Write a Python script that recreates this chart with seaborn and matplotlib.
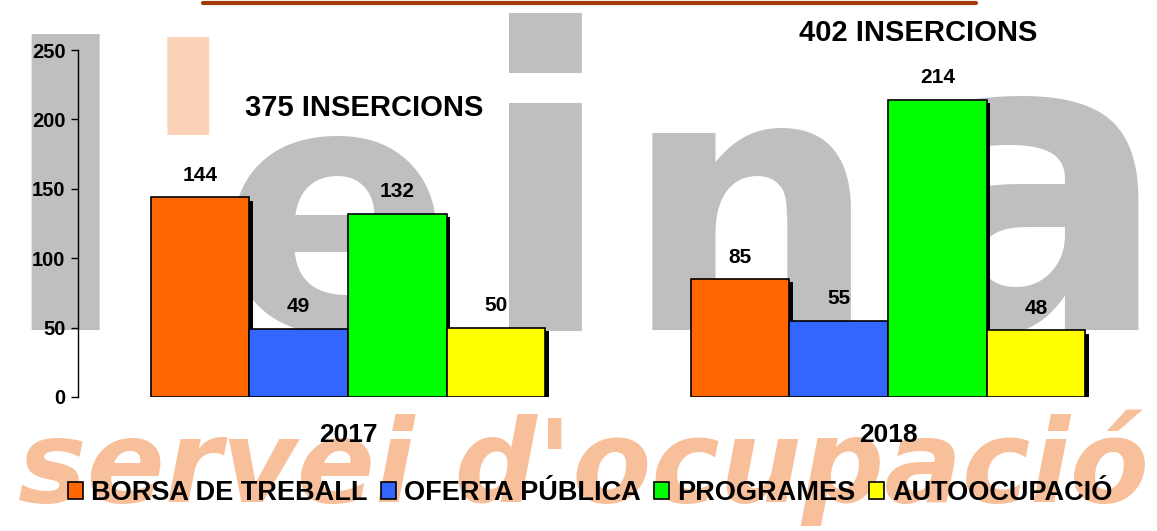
import matplotlib
matplotlib.use("Agg")
import matplotlib.pyplot as plt
import matplotlib.patches as mpatches
import matplotlib.patheffects as pe
from matplotlib.lines import Line2D
import pandas as pd
import seaborn as sns

# ---------------------------------------------------------------------------
# data
# ---------------------------------------------------------------------------
YEARS = ["2017", "2018"]
CATEGORIES = ["BORSA DE TREBALL", "OFERTA PÚBLICA", "PROGRAMES", "AUTOOCUPACIÓ"]
BORSA = [144, 85]
OFERTA = [49, 55]
PROGRAMES = [132, 214]
AUTOOCUPACIO = [50, 48]
TOTALS = ["375 INSERCIONS", "402 INSERCIONS"]

COLORS = ["#FF6600", "#3366FF", "#00FF00", "#FFFF00"]

df = pd.DataFrame({
    "year": YEARS * 4,
    "cat": [c for c in CATEGORIES for _ in YEARS],
    "value": BORSA + OFERTA + PROGRAMES + AUTOOCUPACIO,
})

sns.set_theme(style="white")
plt.rcParams["font.family"] = ["Liberation Sans", "DejaVu Sans"]
plt.rcParams["text.color"] = "black"
plt.rcParams["xtick.color"] = "black"
plt.rcParams["ytick.color"] = "black"

W, H = 1157, 531
fig = plt.figure(figsize=(W / 100, H / 100), dpi=100)
fig.patch.set_facecolor("white")


def px(x, y):
    return x / W, (H - y) / H


# ---------------------------------------------------------------------------
# background watermark (l'eina / servei d'ocupació)
# ---------------------------------------------------------------------------
GREY = "#BFBFBF"
ORANGE_WM = "#F8C09A"
wm = dict(family="DejaVu Sans", weight="bold", ha="center", va="baseline", zorder=0)
fig.text(*px(65, 330), "l", fontsize=280, color=GREY, **wm)
fig.text(*px(188, 300), "'", fontsize=260, color="#FAD3B8", **wm)
fig.text(*px(335, 330), "e", fontsize=250, color=GREY, **wm)
fig.text(*px(545, 330), "i", fontsize=300, color=GREY, **wm)
fig.text(*px(750, 330), "n", fontsize=260, color=GREY, **wm)
fig.text(*px(1030, 330), "a", fontsize=300, color=GREY, **wm)
fig.text(*px(583, 502), "servei d'ocupació", fontsize=83, color=ORANGE_WM,
         style="italic", **wm)

# cut-off title underline
fig.add_artist(Line2D([203 / W, 976 / W], [1 - 3 / H] * 2, color="#A33A0B", lw=3))

# ---------------------------------------------------------------------------
# bars
# ---------------------------------------------------------------------------
ax = fig.add_axes([78 / W, 1 - 397 / H, 1080 / W, 347 / H])
ax.patch.set_alpha(0)
ax.set_zorder(2)

sns.barplot(data=df, x="year", y="value", hue="cat", hue_order=CATEGORIES,
            palette=COLORS, width=0.73, edgecolor="black", linewidth=1.2,
            saturation=1, legend=False, ax=ax)

for c in ax.containers:
    ax.bar_label(c, fmt="%.0f", padding=9, fontsize=15, fontweight="bold")

for p in ax.patches:
    p.set_path_effects([pe.SimplePatchShadow(offset=(2.5, -2.5),
                                             shadow_rgbFace="black", alpha=1.0),
                        pe.Normal()])

ax.text(0.03, 208, TOTALS[0], ha="center", va="center", fontsize=21,
        fontweight="bold", clip_on=False)
ax.text(1.055, 262, TOTALS[1], ha="center", va="center", fontsize=21,
        fontweight="bold", clip_on=False)

ax.set_xlim(-0.5, 1.5)
ax.set_ylim(0, 250)
ax.set_yticks(range(0, 251, 50))
ax.set_xlabel("")
ax.set_ylabel("")
for s in ["top", "right", "bottom"]:
    ax.spines[s].set_visible(False)
ax.spines["left"].set_color("black")
ax.spines["left"].set_linewidth(1)
ax.tick_params(axis="y", left=True, length=5, width=1, color="black",
               direction="out", labelsize=14.5, pad=4)
ax.tick_params(axis="x", length=0, labelsize=19, pad=19)
for t in ax.get_yticklabels() + ax.get_xticklabels():
    t.set_fontweight("bold")

handles = [mpatches.Patch(facecolor=c, edgecolor="black", linewidth=1.2)
           for c in COLORS]
fig.legend(handles, CATEGORIES, loc="center", bbox_to_anchor=(590 / W, 38 / H),
           ncol=4, frameon=False, prop=dict(weight="bold", size=19.5),
           handlelength=0.55, handleheight=0.55, handletextpad=0.3,
           columnspacing=0.5, borderaxespad=0)

fig.savefig("out.png", dpi=100, facecolor="white")
